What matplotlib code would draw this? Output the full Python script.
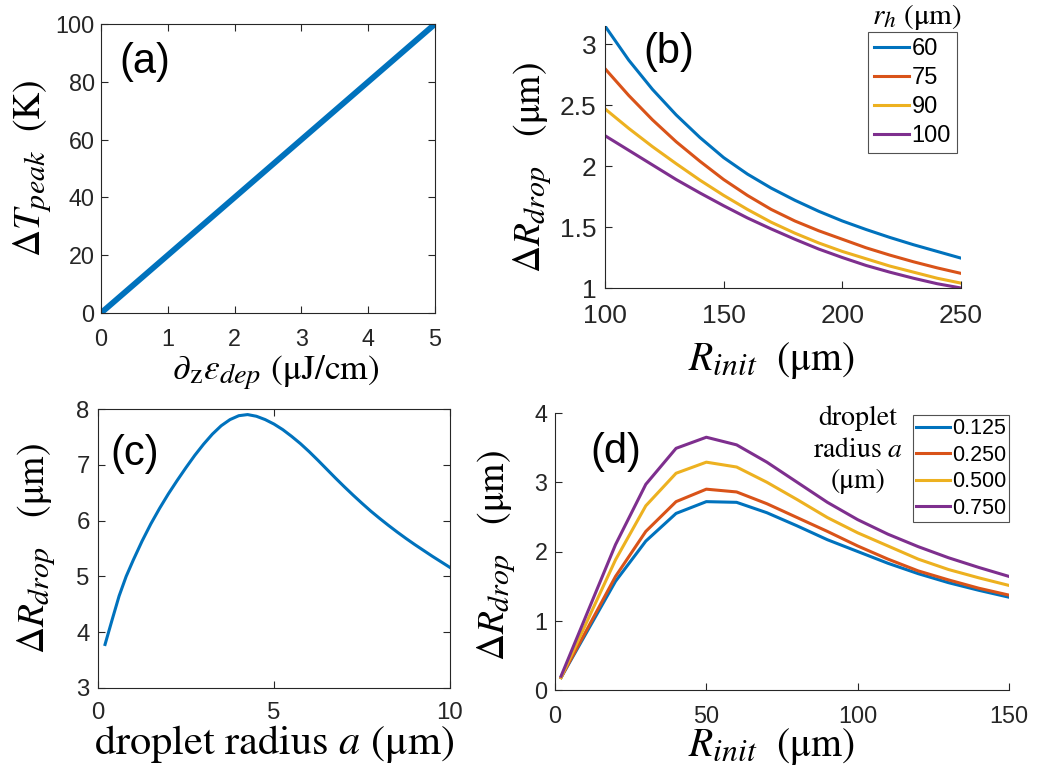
import matplotlib
matplotlib.use("Agg")
import matplotlib.pyplot as plt
import matplotlib._mathtext as mathtext_impl
from matplotlib.lines import Line2D

plt.rcParams["mathtext.fontset"] = "stix"
plt.rcParams["font.family"] = "Liberation Sans"
# slightly larger sub/superscripts in the axis labels
mathtext_impl.SHRINK_FACTOR = 0.8

W, H = 1038, 767
TICK_COLOR = "#262626"
SERIF = "STIXGeneral"
COLORS = ["#0072BD", "#D95319", "#EDB120", "#7E2F8E"]

# (a) peak temperature rise vs deposited energy gradient
dep_energy = [0, 1, 2, 3, 4, 5]
dT_peak = [0, 20, 40, 60, 80, 100]

# (b) drop radius change vs initial radius for several heating radii
r_h_values = ["60", "75", "90", "100"]
R_init_b = [100, 110, 120, 130, 140, 150, 160, 170, 180, 190, 200, 210, 220, 230, 240, 250]
dR_rh60 = [3.15, 2.87, 2.63, 2.42, 2.235, 2.07, 1.935, 1.82, 1.72, 1.63, 1.55, 1.48, 1.415, 1.355, 1.30, 1.245]
dR_rh75 = [2.80, 2.58, 2.38, 2.20, 2.04, 1.89, 1.76, 1.645, 1.55, 1.47, 1.40, 1.33, 1.27, 1.215, 1.165, 1.12]
dR_rh90 = [2.47, 2.31, 2.16, 2.02, 1.885, 1.76, 1.645, 1.54, 1.45, 1.37, 1.30, 1.24, 1.18, 1.13, 1.08, 1.04]
dR_rh100 = [2.25, 2.13, 2.01, 1.89, 1.78, 1.675, 1.575, 1.485, 1.40, 1.32, 1.25, 1.185, 1.13, 1.08, 1.035, 1.00]

# (c) drop radius change vs droplet radius
droplet_a = [0.2, 0.4, 0.6, 0.8, 1.0, 1.25, 1.5, 1.75, 2.0, 2.25, 2.5, 2.75, 3.0, 3.25, 3.5, 3.75,
             4.0, 4.25, 4.5, 4.75, 5.0, 5.25, 5.5, 5.75, 6.0, 6.25, 6.5, 6.75, 7.0, 7.25, 7.5, 7.75,
             8.0, 8.25, 8.5, 8.75, 9.0, 9.25, 9.5, 9.75, 10.0]
dR_vs_a = [3.78, 4.22, 4.65, 5.00, 5.29, 5.63, 5.94, 6.22, 6.48, 6.72, 6.95, 7.17, 7.37, 7.55, 7.70, 7.81,
           7.88, 7.90, 7.87, 7.81, 7.73, 7.63, 7.51, 7.38, 7.235, 7.08, 6.92, 6.76, 6.605, 6.455, 6.31, 6.17,
           6.04, 5.915, 5.795, 5.68, 5.57, 5.465, 5.36, 5.26, 5.16]

# (d) drop radius change vs initial radius for several droplet radii
a_values = ["0.125", "0.250", "0.500", "0.750"]
R_init_d = [2, 20, 30, 40, 50, 60, 70, 80, 90, 100, 110, 120, 130, 140, 150]
dR_a0125 = [0.18, 1.57, 2.15, 2.55, 2.72, 2.71, 2.56, 2.37, 2.17, 2.00, 1.83, 1.68, 1.55, 1.44, 1.34]
dR_a0250 = [0.18, 1.64, 2.29, 2.72, 2.90, 2.86, 2.69, 2.49, 2.29, 2.08, 1.89, 1.72, 1.59, 1.47, 1.37]
dR_a0500 = [0.18, 1.88, 2.66, 3.13, 3.29, 3.22, 3.00, 2.75, 2.49, 2.27, 2.08, 1.89, 1.74, 1.62, 1.51]
dR_a0750 = [0.20, 2.10, 2.97, 3.49, 3.65, 3.54, 3.29, 3.00, 2.71, 2.46, 2.25, 2.07, 1.91, 1.77, 1.64]


def px_axes(fig, left, top, right, bottom):
    return fig.add_axes([left / W, 1 - bottom / H, (right - left) / W, (bottom - top) / H])


def style(ax, size, box, xpad, ypad):
    ax.tick_params(direction="in", which="both", labelsize=size, colors=TICK_COLOR,
                   length=5, width=0.8, top=box, right=box)
    ax.tick_params(axis="x", pad=xpad)
    ax.tick_params(axis="y", pad=ypad)
    for side in ("left", "bottom", "top", "right"):
        ax.spines[side].set_color(TICK_COLOR)
        ax.spines[side].set_linewidth(0.8)
    if not box:
        ax.spines["top"].set_visible(False)
        ax.spines["right"].set_visible(False)


fig = plt.figure(figsize=(W / 100, H / 100), dpi=100)

# ---- (a)
ax_a = px_axes(fig, 101, 24, 435, 313)
ax_a.plot(dep_energy, dT_peak, color=COLORS[0], lw=4.2, solid_capstyle="butt")
ax_a.set_xlim(0, 5)
ax_a.set_ylim(0, 100)
ax_a.set_xticks([0, 1, 2, 3, 4, 5])
ax_a.set_yticks([0, 20, 40, 60, 80, 100])
style(ax_a, 16.8, True, 10.5, 4.5)
ax_a.set_xlabel(r"$\partial_{\mathrm{z}}\varepsilon_{dep}$ (μJ/cm)", family=SERIF, fontsize=25.5)
ax_a.xaxis.set_label_coords((276 - 101) / 334, -(354 - 313) / 289)
ax_a.set_ylabel(r"$\Delta T_{peak}$  (K)", family=SERIF, fontsize=27, labelpad=2)
ax_a.text(0.13, 0.87, "(a)", transform=ax_a.transAxes, fontsize=30, ha="center", va="center")

# ---- (b)
ax_b = px_axes(fig, 605, 26, 961, 288)
for ys, c in zip([dR_rh60, dR_rh75, dR_rh90, dR_rh100], COLORS):
    ax_b.plot(R_init_b, ys, color=c, lw=2.2)
ax_b.set_xlim(100, 250)
ax_b.set_ylim(1, 3.15)
ax_b.set_xticks([100, 150, 200, 250])
ax_b.set_yticks([1, 1.5, 2, 2.5, 3])
ax_b.set_yticklabels(["1", "1.5", "2", "2.5", "3"])
style(ax_b, 19, False, 11.8, 6)
ax_b.set_xlabel(r"$R_{init}$  (μm)", family=SERIF, fontsize=28.5)
ax_b.xaxis.set_label_coords((771.5 - 605) / 356, -(340 - 288) / 262)
ax_b.set_ylabel(r"$\Delta R_{drop}$   (μm)", family=SERIF, fontsize=27)
ax_b.yaxis.set_label_coords(-(605 - 553) / 356, (288 - 168) / 262)
ax_b.text(0.18, 0.90, "(b)", transform=ax_b.transAxes, fontsize=30, ha="center", va="center")
handles_b = [Line2D([], [], color=c, lw=2.2) for c in COLORS]
leg_b = ax_b.legend(handles_b, r_h_values, loc="upper left", bbox_to_anchor=((868 - 605) / 356, 1 - (32 - 26) / 262),
                    fontsize=17, frameon=True, fancybox=False, handlelength=1.5, handletextpad=0.1,
                    borderpad=0.25, labelspacing=0.3, borderaxespad=0)
leg_b.get_frame().set_edgecolor(TICK_COLOR)
leg_b.get_frame().set_linewidth(0.8)
fig.text(917 / W, 1 - 17 / H, r"$r_h$ (μm)", family=SERIF, fontsize=21, ha="center", va="center")

# ---- (c)
ax_c = px_axes(fig, 98, 409, 450, 688)
ax_c.plot(droplet_a, dR_vs_a, color=COLORS[0], lw=2.2)
ax_c.set_xlim(0, 10)
ax_c.set_ylim(3, 8)
ax_c.set_xticks([0, 5, 10])
ax_c.set_yticks([3, 4, 5, 6, 7, 8])
style(ax_c, 17.3, True, 10, 6)
ax_c.set_xlabel(r"droplet radius $a$ (μm)", family=SERIF, fontsize=30.5, labelpad=-0.5)
ax_c.set_ylabel(r"$\Delta R_{drop}$   (μm)", family=SERIF, fontsize=27, labelpad=14)
ax_c.text(0.105, 0.84, "(c)", transform=ax_c.transAxes, fontsize=30, ha="center", va="center")

# ---- (d)
ax_d = px_axes(fig, 555, 413, 1009, 690)
for ys, c in zip([dR_a0125, dR_a0250, dR_a0500, dR_a0750], COLORS):
    ax_d.plot(R_init_d, ys, color=c, lw=2.2)
ax_d.set_xlim(0, 150)
ax_d.set_ylim(0, 4)
ax_d.set_xticks([0, 50, 100, 150])
ax_d.set_yticks([0, 1, 2, 3, 4])
style(ax_d, 16.8, False, 10.5, 5.5)
ax_d.set_xlabel(r"$R_{init}$  (μm)", family=SERIF, fontsize=28.5)
ax_d.xaxis.set_label_coords((771.5 - 555) / 454, -(726 - 690) / 277)
ax_d.set_ylabel(r"$\Delta R_{drop}$   (μm)", family=SERIF, fontsize=27)
ax_d.yaxis.set_label_coords(-(555 - 517) / 454, (690 - 556) / 277)
ax_d.text(0.135, 0.86, "(d)", transform=ax_d.transAxes, fontsize=30, ha="center", va="center")
handles_d = [Line2D([], [], color=c, lw=2.2) for c in COLORS]
leg_d = ax_d.legend(handles_d, a_values, loc="upper left", bbox_to_anchor=((913 - 555) / 454, 1 - (415 - 413) / 277),
                    fontsize=15.5, frameon=True, fancybox=False, handlelength=1.55, handletextpad=0.1,
                    borderpad=0.15, labelspacing=0.26, borderaxespad=0)
leg_d.get_frame().set_edgecolor(TICK_COLOR)
leg_d.get_frame().set_linewidth(0.8)
fig.text(858 / W, 1 - 450 / H, "droplet\nradius $a$\n(μm)", family=SERIF, fontsize=20,
         ha="center", va="center", linespacing=1.33)

fig.savefig("out.png", dpi=100)
